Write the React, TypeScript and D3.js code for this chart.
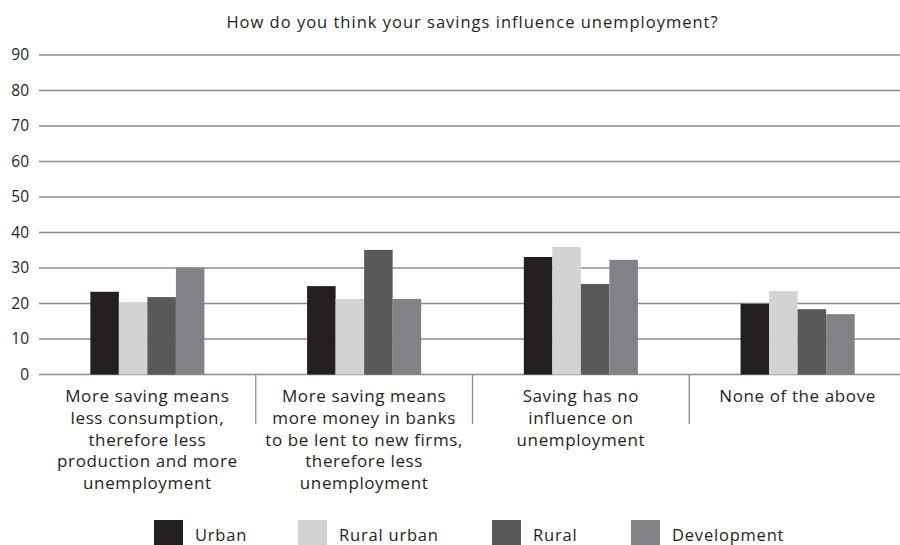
import React from "react";
import * as d3 from "d3";

const title = "How do you think your savings influence unemployment?";
const categories = ["c1", "c2", "c3", "c4"];
const categoryLines: string[][] = [
  ["More saving means", "less consumption,", "therefore less", "production and more", "unemployment"],
  ["More saving means", "more money in banks", "to be lent to new firms,", "therefore less", "unemployment"],
  ["Saving has no", "influence on", "unemployment"],
  ["None of the above"],
];
const seriesNames = ["Urban", "Rural urban", "Rural", "Development"];
const seriesColors = ["#231f20", "#d1d3d4", "#58595b", "#808285"];
const urban = [23.3, 24.9, 33.1, 19.9];
const ruralUrban = [20.4, 21.3, 35.9, 23.5];
const rural = [21.8, 35.1, 25.5, 18.4];
const development = [30.1, 21.3, 32.3, 17.0];
const seriesValues = [urban, ruralUrban, rural, development];
const yTicks = [0, 10, 20, 30, 40, 50, 60, 70, 80, 90];

const W = 900;
const H = 545;
const FONT = "'Open Sans', sans-serif";
const TEXT = "#231f20";

export default function App() {
  const left = 39;
  const right = 906;
  const y = d3.scaleLinear().domain([0, 90]).range([374.5, 55]);
  const x0 = d3.scaleBand<string>().domain(categories).range([left, right]).padding(0);
  const x1 = d3
    .scaleBand<string>()
    .domain(seriesNames)
    .range([0, x0.bandwidth()])
    .paddingInner(0)
    .paddingOuter(1.8);

  const legendSquares = [154, 298, 492, 631];

  return (
    <div style={{ position: "absolute", left: 0, top: 0, width: W, height: H, background: "#fff" }}>
      <svg width={W} height={H} style={{ display: "block" }} fontFamily={FONT}>
        <rect x={0} y={0} width={W} height={H} fill="#fff" />
        <text x={(left + right) / 2} y={28} textAnchor="middle" fontSize={16.5} fill={TEXT} letterSpacing={1.0}>
          {title}
        </text>
        {yTicks.map((t) => (
          <g key={t}>
            <line x1={left} x2={right} y1={y(t)} y2={y(t)} stroke="#8c8c8c" strokeWidth={1.3} />
            <text x={29} y={y(t)} dy="0.35em" textAnchor="end" fontSize={15.5} fill={TEXT}>
              {t}
            </text>
          </g>
        ))}
        {categories.slice(1).map((c) => (
          <line
            key={c}
            x1={x0(c)!}
            x2={x0(c)!}
            y1={y(0)}
            y2={424}
            stroke="#8c8c8c"
            strokeWidth={1.3}
          />
        ))}
        {categories.map((c, ci) => (
          <g key={c} transform={`translate(${x0(c)},0)`}>
            {seriesNames.map((s, si) => (
              <rect
                key={s}
                x={x1(s)!}
                width={x1.bandwidth()}
                y={y(seriesValues[si][ci])}
                height={y(0) - y(seriesValues[si][ci])}
                fill={seriesColors[si]}
              />
            ))}
          </g>
        ))}
        {categories.map((c, ci) => (
          <text
            key={c}
            x={x0(c)! + x0.bandwidth() / 2}
            y={402}
            textAnchor="middle"
            fontSize={17}
            fill={TEXT}
            letterSpacing={0.6}
          >
            {categoryLines[ci].map((l, li) => (
              <tspan key={li} x={x0(c)! + x0.bandwidth() / 2} dy={li === 0 ? 0 : 21.8}>
                {l}
              </tspan>
            ))}
          </text>
        ))}
        {seriesNames.map((s, i) => (
          <g key={s}>
            <rect x={legendSquares[i]} y={520} width={29} height={29} fill={seriesColors[i]} />
            <text x={legendSquares[i] + 41} y={535} dy="0.35em" fontSize={16.5} fill={TEXT} letterSpacing={0.8}>
              {s}
            </text>
          </g>
        ))}
      </svg>
    </div>
  );
}
